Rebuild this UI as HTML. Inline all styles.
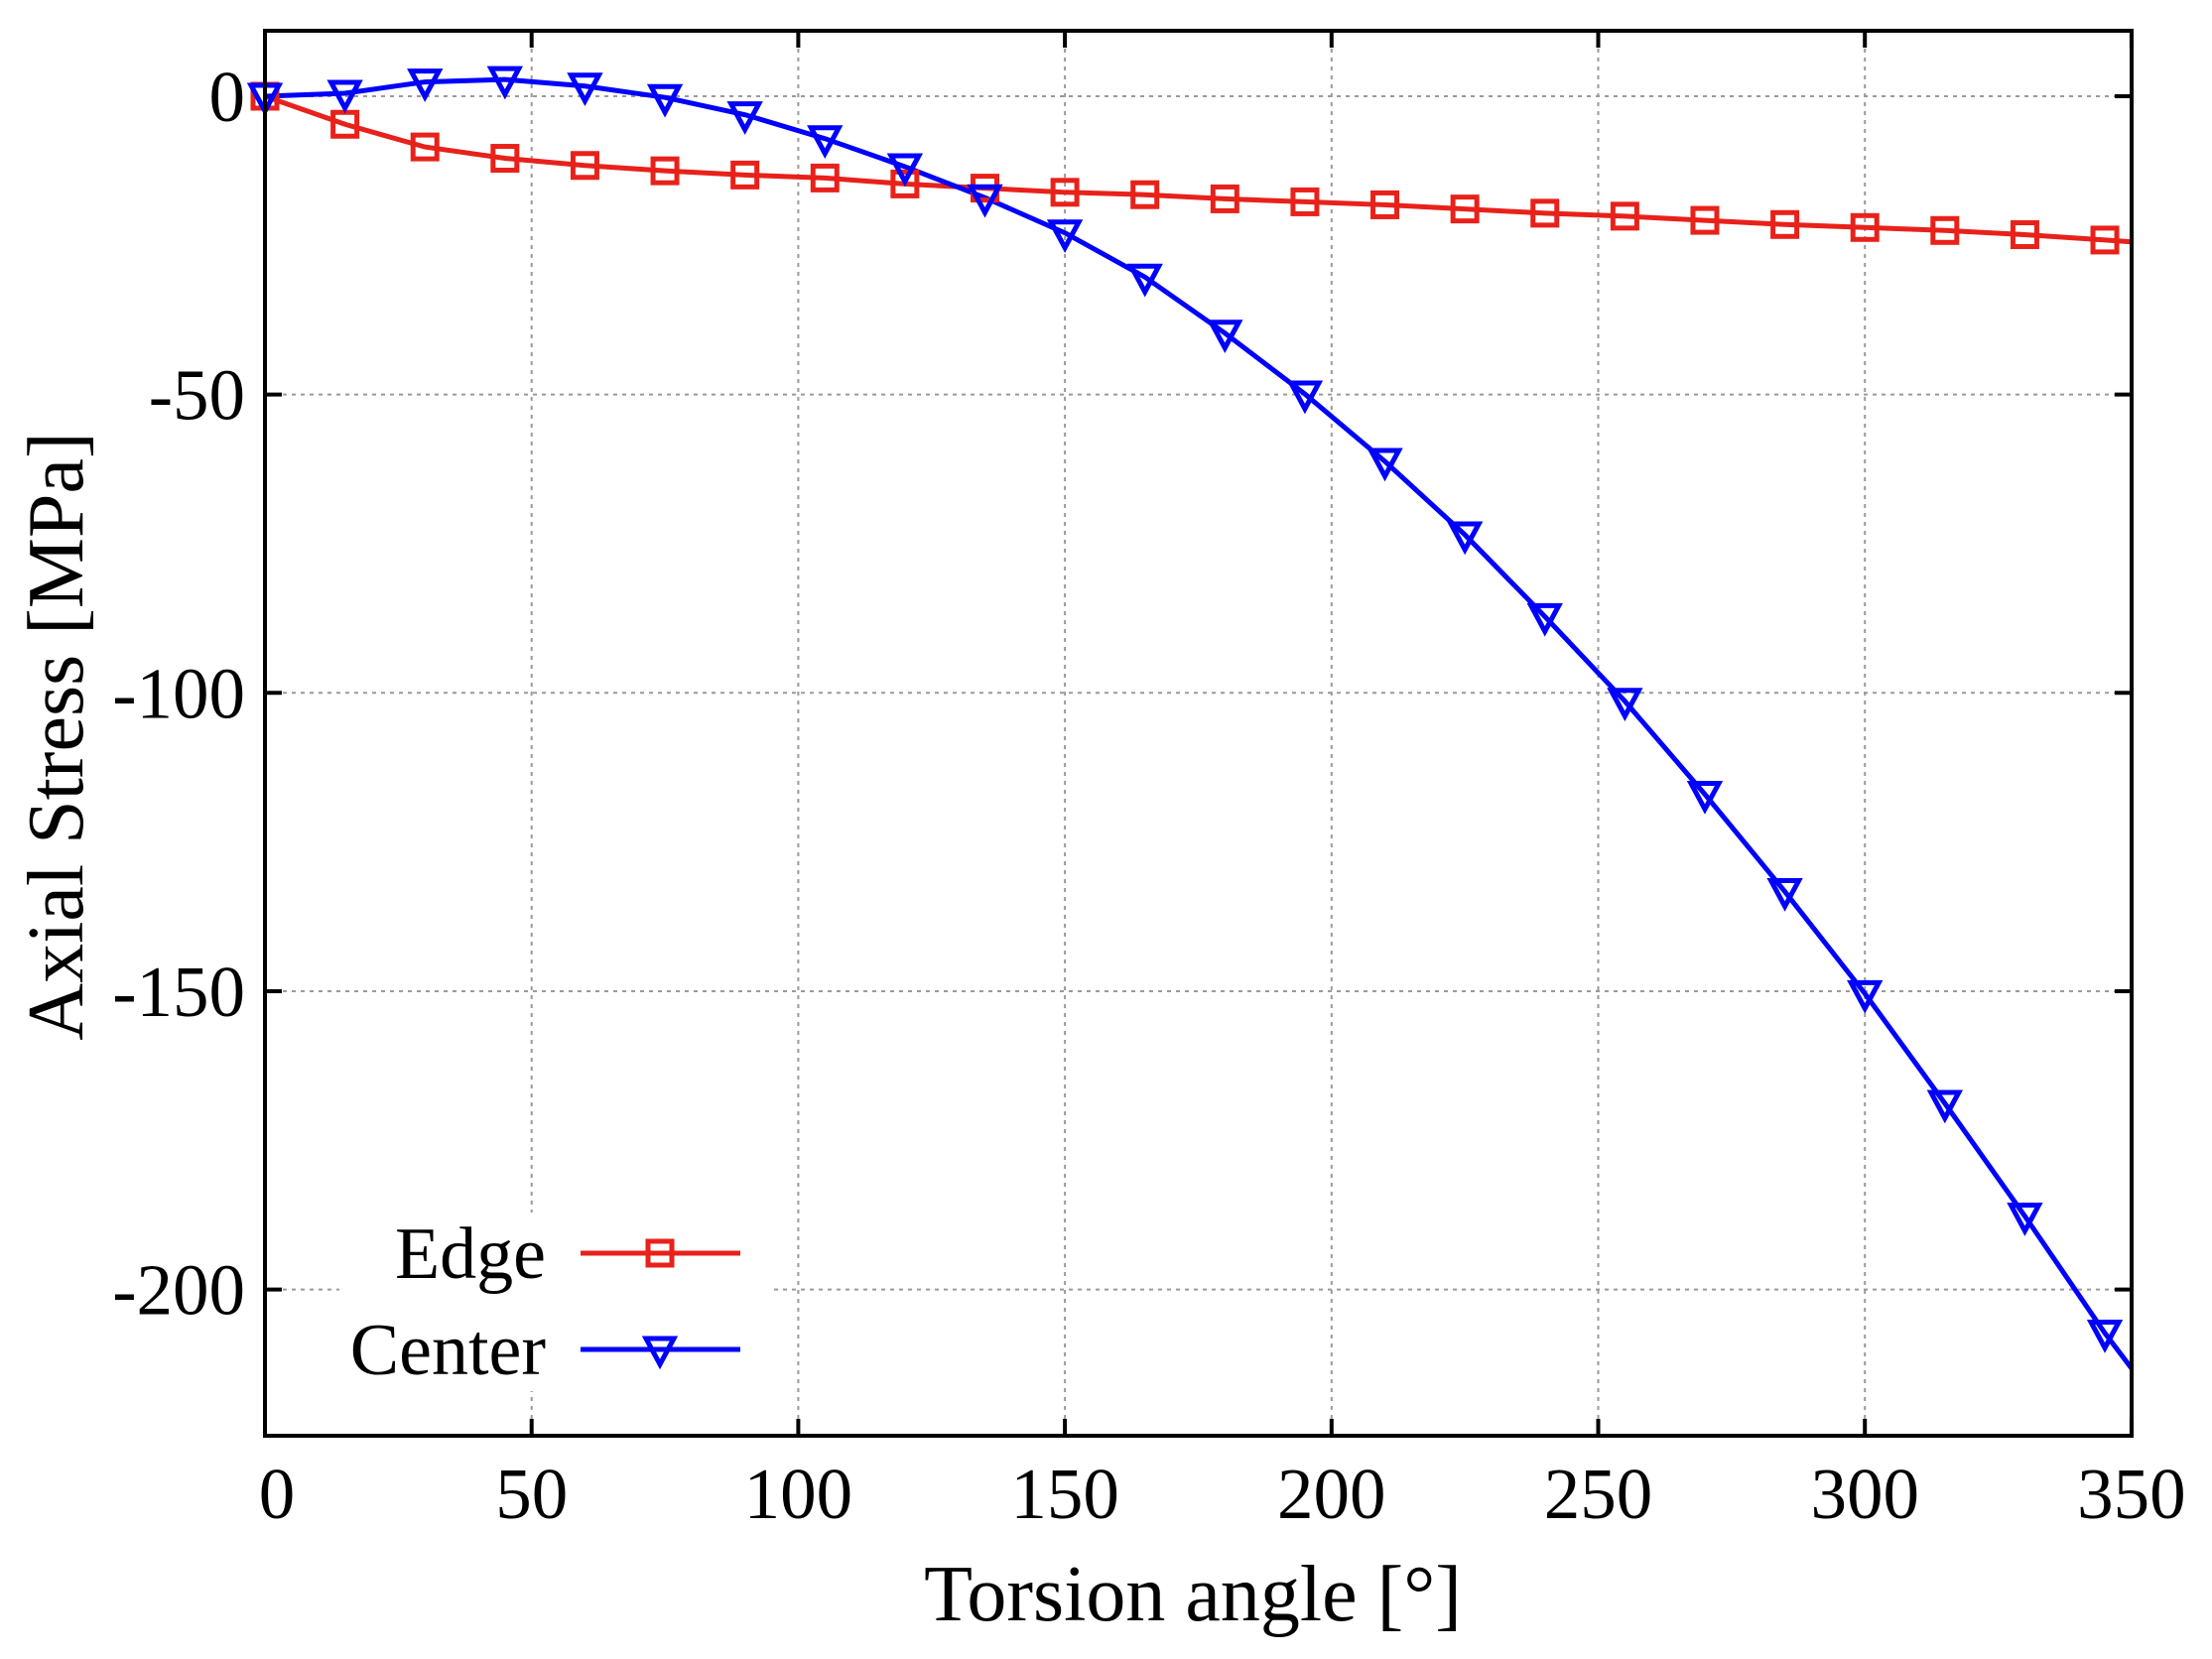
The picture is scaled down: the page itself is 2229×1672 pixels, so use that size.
<!DOCTYPE html>
<html><head><meta charset="utf-8"><style>
html,body{margin:0;padding:0;background:#fff}
svg{display:block}
text{font-family:"Liberation Serif",serif;fill:#000}
</style></head><body>
<svg id="s" width="2229" height="1672" viewBox="0 0 2229 1672" xmlns="http://www.w3.org/2000/svg">
<rect width="2229" height="1672" fill="#fff"/>
<g id="grid" stroke="#9a9a9a" stroke-width="2" stroke-dasharray="4,5"></g>
<g id="ticks" stroke="#000" stroke-width="4"></g>
<g id="series"></g>
<rect x="342" y="1222" width="436" height="180" fill="#fff"/>
<g id="legend"></g>
<rect x="267" y="31" width="1881" height="1416" fill="none" stroke="#000" stroke-width="4"/>
<g id="labels" font-size="73"></g>
<text x="1202" y="1633" font-size="80" text-anchor="middle">Torsion angle [°]</text>
<text transform="translate(83,742) rotate(-90)" font-size="80" text-anchor="middle">Axial Stress [MPa]</text>
</svg>
<script>
var NS="http://www.w3.org/2000/svg";
function X(v){return 267+v*5.374;}
function Y(v){return 97-v*6.013;}
function el(p,t,a,txt){var e=document.createElementNS(NS,t);for(var k in a)e.setAttribute(k,a[k]);if(txt!==undefined)e.textContent=txt;document.getElementById(p).appendChild(e);return e;}
var L=267,R=2148,T=31,B=1447;
[50,100,150,200,250,300].forEach(function(v){el("grid","line",{x1:X(v),y1:T,x2:X(v),y2:B});});
[0,-50,-100,-150].forEach(function(v){el("grid","line",{x1:L,y1:Y(v),x2:R,y2:Y(v)});});
el("grid","line",{x1:L,y1:Y(-200),x2:R,y2:Y(-200)});
[0,50,100,150,200,250,300,350].forEach(function(v){var x=X(v);
 el("ticks","line",{x1:x,y1:B,x2:x,y2:B-17});el("ticks","line",{x1:x,y1:T,x2:x,y2:T+17});
 el("labels","text",{x:x+(v==0?12:0),y:1530,"text-anchor":"middle"},String(v));});
[0,-50,-100,-150,-200].forEach(function(v){var y=Y(v);
 el("ticks","line",{x1:L,y1:y,x2:L+17,y2:y});el("ticks","line",{x1:R,y1:y,x2:R-17,y2:y});
 el("labels","text",{x:247,y:y+25,"text-anchor":"end"},String(v));});
var edge=[0,-4.7,-8.5,-10.4,-11.6,-12.5,-13.2,-13.7,-14.7,-15.4,-16.1,-16.5,-17.2,-17.7,-18.2,-18.9,-19.6,-20.1,-20.8,-21.5,-22,-22.5,-23.2,-24.1];
var cen=[0,0.5,2.4,2.8,1.7,-0.2,-3.1,-7.1,-11.8,-17,-22.9,-30.3,-39.7,-49.9,-61.2,-73.5,-87.2,-101.4,-117,-133.3,-150.4,-168.8,-187.7,-207.3];
function pts(d,end){var p=d.map(function(v,i){return X(i*15)+","+Y(v);});p.push(X(350)+","+Y(end));return p.join(" ");}
el("series","polyline",{points:pts(edge,-24.4),fill:"none",stroke:"#e8211a","stroke-width":5});
el("series","polyline",{points:pts(cen,-213.2),fill:"none",stroke:"#0000ff","stroke-width":5});
function sq(g,x,y){el(g,"rect",{x:x-12,y:y-12,width:24,height:24,fill:"none",stroke:"#e8211a","stroke-width":5});}
function tri(g,x,y){el(g,"polygon",{points:(x-14)+","+(y-11)+" "+(x+14)+","+(y-11)+" "+x+","+(y+15),fill:"none",stroke:"#0000ff","stroke-width":5});}
edge.forEach(function(v,i){sq("series",X(i*15),Y(v));});
cen.forEach(function(v,i){tri("series",X(i*15),Y(v));});
el("legend","text",{x:550,y:1288,"font-size":74,"text-anchor":"end"},"Edge");
el("legend","line",{x1:585,y1:1263,x2:746,y2:1263,stroke:"#e8211a","stroke-width":5});
sq("legend",665,1263);
el("legend","text",{x:550,y:1385,"font-size":74,"text-anchor":"end"},"Center");
el("legend","line",{x1:585,y1:1360,x2:746,y2:1360,stroke:"#0000ff","stroke-width":5});
tri("legend",665,1360);
</script>
</body></html>
